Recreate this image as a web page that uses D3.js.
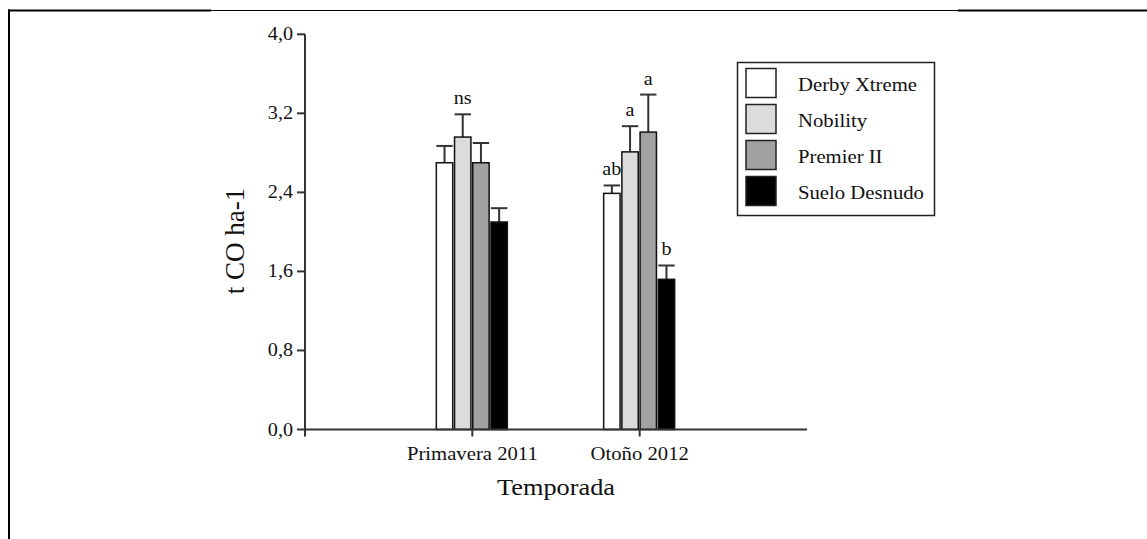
<!DOCTYPE html>
<html>
<head>
<meta charset="utf-8">
<script src="https://cdnjs.cloudflare.com/ajax/libs/d3/7.8.5/d3.min.js"></script>
<style>
  body { margin: 0; background: #fff; }
  text { font-family: "Liberation Serif", "Times New Roman", serif; fill: #111; }
</style>
</head>
<body>
<div id="chart"></div>
<script>
// data
var seasons = ["Primavera 2011", "Otoño 2012"];
var series = ["Derby Xtreme", "Nobility", "Premier II", "Suelo Desnudo"];
var colors = ["#ffffff", "#dcdcdc", "#a2a2a2", "#000000"];
var primavera = [2.70, 2.96, 2.70, 2.10];
var otono = [2.39, 2.81, 3.01, 1.52];
var primaveraErr = [0.17, 0.23, 0.20, 0.14];
var otonoErr = [0.08, 0.26, 0.38, 0.14];
var primaveraSig = ["", "ns", "", ""];
var otonoSig = ["ab", "a", "a", "b"];
var yTicks = [0, 0.8, 1.6, 2.4, 3.2, 4.0];

var values = [primavera, otono];
var errs = [primaveraErr, otonoErr];
var sigs = [primaveraSig, otonoSig];

var W = 1147, H = 539;
var sx = 1.12; // the original picture is a little stretched sideways

var svg = d3.select("#chart").append("svg")
  .attr("width", W)
  .attr("height", H);

svg.append("rect").attr("width", W).attr("height", H).attr("fill", "#fff");

// frame lines round the figure
svg.append("line").attr("x1", 8).attr("x2", 211).attr("y1", 10.5).attr("y2", 10.5)
  .attr("stroke", "#000").attr("stroke-width", 2);
svg.append("line").attr("x1", 211).attr("x2", 958).attr("y1", 10.5).attr("y2", 10.5)
  .attr("stroke", "#000").attr("stroke-width", 1);
svg.append("line").attr("x1", 958).attr("x2", W).attr("y1", 10.5).attr("y2", 10.5)
  .attr("stroke", "#000").attr("stroke-width", 2);
svg.append("line").attr("x1", 9).attr("x2", 9).attr("y1", 9.5).attr("y2", H)
  .attr("stroke", "#000").attr("stroke-width", 2);

// scales
var y = d3.scaleLinear().domain([0, 4]).range([429.5, 34.3]);
var x = d3.scalePoint().domain(seasons).range([305, 807]).padding(1);
var xInner = d3.scaleBand().domain(series).range([-36, 35]).paddingInner(0.1);

// stretched text helper
function label(g, tx, ty, str, size, anchor) {
  return g.append("text")
    .attr("transform", "translate(" + tx + "," + ty + ") scale(" + sx + ",1)")
    .attr("text-anchor", anchor)
    .style("font-size", size + "px")
    .text(str);
}

// bars
var axisCol = "#333";
seasons.forEach(function(s, i) {
  var g = svg.append("g").attr("transform", "translate(" + x(s) + ",0)");
  series.forEach(function(name, j) {
    var v = values[i][j], e = errs[i][j];
    var bx = xInner(name), bw = xInner.bandwidth();
    // error bar (upper only)
    g.append("line")
      .attr("x1", bx + bw / 2).attr("x2", bx + bw / 2)
      .attr("y1", y(v)).attr("y2", y(v + e))
      .attr("stroke", axisCol).attr("stroke-width", 2);
    g.append("line")
      .attr("x1", bx).attr("x2", bx + bw)
      .attr("y1", y(v + e)).attr("y2", y(v + e))
      .attr("stroke", axisCol).attr("stroke-width", 2);
    g.append("rect")
      .attr("x", bx).attr("width", bw)
      .attr("y", y(v)).attr("height", y(0) - y(v))
      .attr("fill", colors[j])
      .attr("stroke", "#111").attr("stroke-width", 1.5);
    if (sigs[i][j]) {
      label(g, bx + bw / 2, y(v + e) - 10, sigs[i][j], 18, "middle");
    }
  });
});

// y axis
svg.append("line").attr("x1", 305).attr("x2", 305).attr("y1", y(4)).attr("y2", y(0) + 7)
  .attr("stroke", axisCol).attr("stroke-width", 2);
yTicks.forEach(function(t) {
  svg.append("line").attr("x1", 297).attr("x2", 305).attr("y1", y(t)).attr("y2", y(t))
    .attr("stroke", axisCol).attr("stroke-width", 2);
  label(svg, 293, y(t) + 6, t.toFixed(1).replace(".", ","), 18, "end");
});

// x axis
svg.append("line").attr("x1", 305).attr("x2", 807).attr("y1", y(0)).attr("y2", y(0))
  .attr("stroke", axisCol).attr("stroke-width", 2);
seasons.forEach(function(s) {
  svg.append("line").attr("x1", x(s)).attr("x2", x(s)).attr("y1", y(0)).attr("y2", y(0) + 7)
    .attr("stroke", axisCol).attr("stroke-width", 2);
  label(svg, x(s), 460, s, 18.5, "middle");
});

// axis titles
label(svg, 556, 495, "Temporada", 23.5, "middle");
svg.append("text")
  .attr("transform", "translate(244,241) rotate(-90)")
  .attr("text-anchor", "middle")
  .style("font-size", "27px")
  .text("t CO ha-1");

// legend
var leg = svg.append("g");
leg.append("rect").attr("x", 737.5).attr("y", 62.5).attr("width", 197).attr("height", 153)
  .attr("fill", "#fff").attr("stroke", "#222").attr("stroke-width", 1.5);
series.forEach(function(name, j) {
  var ry = 68.5 + j * 36;
  leg.append("rect").attr("x", 746).attr("y", ry).attr("width", 30).attr("height", 29)
    .attr("fill", colors[j]).attr("stroke", "#222").attr("stroke-width", 1.5);
  label(leg, 798, ry + 22, name, 18.5, "start");
});
</script>
</body>
</html>
